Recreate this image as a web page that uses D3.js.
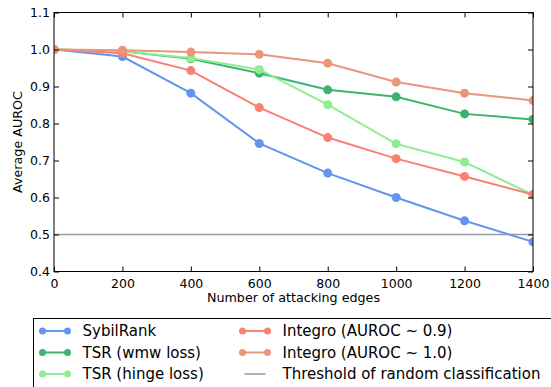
<!DOCTYPE html>
<html>
<head>
<meta charset="utf-8">
<script src="https://cdn.jsdelivr.net/npm/d3@7"></script>
<style>
  body { margin: 0; background: #fff; }
  svg { font-family: "DejaVu Sans", sans-serif; }
</style>
</head>
<body>
<div id="chart"></div>
<script>
// data
var edges = [0, 200, 400, 600, 800, 1000, 1200, 1400];
var sybilRank   = [1.000, 0.981, 0.882, 0.746, 0.666, 0.600, 0.537, 0.480];
var tsrWmw      = [1.000, 0.995, 0.975, 0.936, 0.891, 0.872, 0.826, 0.811];
var tsrHinge    = [1.000, 0.995, 0.977, 0.946, 0.851, 0.745, 0.696, 0.607];
var integro09   = [1.000, 0.990, 0.943, 0.843, 0.762, 0.705, 0.657, 0.608];
var integro10   = [1.000, 0.998, 0.993, 0.987, 0.963, 0.912, 0.882, 0.862];
var threshold   = 0.5;
var xTicks = [0, 200, 400, 600, 800, 1000, 1200, 1400];
var yTicks = [0.4, 0.5, 0.6, 0.7, 0.8, 0.9, 1.0, 1.1];

var series = [
  { name: "SybilRank", values: sybilRank, color: "#6495ED" },
  { name: "TSR (wmw loss)", values: tsrWmw, color: "#3CB371" },
  { name: "TSR (hinge loss)", values: tsrHinge, color: "#90EE90" },
  { name: "Integro (AUROC ~ 0.9)", values: integro09, color: "#FA8072" },
  { name: "Integro (AUROC ~ 1.0)", values: integro10, color: "#E9967A" }
];

var W = 551, H = 387;
var plotL = 54, plotR = 533, plotT = 12.5, plotB = 271.5;

var svg = d3.select("#chart").append("svg")
  .attr("width", W).attr("height", H);

var x = d3.scaleLinear().domain([0, 1400]).range([plotL, plotR]);
var y = d3.scaleLinear().domain([0.4, 1.1]).range([plotB, plotT]);

svg.append("clipPath").attr("id", "plotclip")
  .append("rect").attr("x", plotL).attr("y", plotT)
  .attr("width", plotR - plotL).attr("height", plotB - plotT);

var plot = svg.append("g").attr("clip-path", "url(#plotclip)");

// threshold line
plot.append("line")
  .attr("x1", plotL).attr("x2", plotR)
  .attr("y1", y(threshold)).attr("y2", y(threshold))
  .attr("stroke", "#999").attr("stroke-width", 1.5);

var line = d3.line()
  .x(function(d, i){ return x(edges[i]) })
  .y(function(d){ return y(d) });

series.forEach(function(s){
  plot.append("path")
    .attr("d", line(s.values))
    .attr("fill", "none")
    .attr("stroke", s.color)
    .attr("stroke-width", 2);
  plot.selectAll(null)
    .data(s.values)
    .enter()
    .append("circle")
      .attr("cx", function(d, i){ return x(edges[i]) })
      .attr("cy", function(d){ return y(d) })
      .attr("r", 4.5)
      .attr("fill", s.color);
});

// axes, ticks pointing inward on all four sides
var fmtY = d3.format(".1f");
var fmtX = d3.format("d");
var tickLen = 5;

var axB = svg.append("g").attr("transform", "translate(0," + plotB + ")")
  .call(d3.axisBottom(x).tickValues(xTicks).tickSizeInner(-tickLen).tickSizeOuter(0).tickFormat(fmtX).tickPadding(4));
var axT = svg.append("g").attr("transform", "translate(0," + plotT + ")")
  .call(d3.axisTop(x).tickValues(xTicks).tickSizeInner(-tickLen).tickSizeOuter(0).tickFormat(""));
var axL = svg.append("g").attr("transform", "translate(" + plotL + ",0)")
  .call(d3.axisLeft(y).tickValues(yTicks).tickSizeInner(-tickLen).tickSizeOuter(0).tickFormat(fmtY).tickPadding(4));
var axR = svg.append("g").attr("transform", "translate(" + plotR + ",0)")
  .call(d3.axisRight(y).tickValues(yTicks).tickSizeInner(-tickLen).tickSizeOuter(0).tickFormat(""));

[axB, axT, axL, axR].forEach(function(a){
  a.select(".domain").remove();
  a.selectAll("line").attr("stroke", "#000").attr("stroke-width", 1);
  a.selectAll("text").attr("font-size", 12.5).attr("font-family", "DejaVu Sans").attr("fill", "#000");
});
axB.selectAll("text").attr("y", 8).attr("dy", "0.71em");
axL.selectAll("text").attr("x", -4);

svg.append("rect")
  .attr("x", plotL).attr("y", plotT)
  .attr("width", plotR - plotL).attr("height", plotB - plotT)
  .attr("fill", "none").attr("stroke", "#000").attr("stroke-width", 1);

// axis labels
svg.append("text")
  .attr("x", (plotL + plotR) / 2).attr("y", 302)
  .attr("text-anchor", "middle")
  .attr("font-size", 12.7)
  .text("Number of attacking edges");

svg.append("text")
  .attr("transform", "translate(22," + ((plotT + plotB) / 2) + ") rotate(-90)")
  .attr("text-anchor", "middle")
  .attr("font-size", 12.7)
  .text("Average AUROC");

// legend (runs off the bottom/right edge like the original)
var legend = svg.append("g");
legend.append("rect")
  .attr("x", 33.5).attr("y", 318.5)
  .attr("width", 540).attr("height", 90)
  .attr("fill", "#fff").attr("stroke", "#000").attr("stroke-width", 1);

var legendItems = series.slice(0, 3).map(function(s, i){ return { s: s, col: 0, row: i } })
  .concat(series.slice(3).map(function(s, i){ return { s: s, col: 1, row: i } }));
legendItems.push({ s: { name: "Threshold of random classification", color: "#999" }, col: 1, row: 2, plain: true });

var colX = [42.5, 242.5], rowY = [331, 352.5, 374], handle = 25, textGap = 15;

legendItems.forEach(function(it){
  var x0 = colX[it.col], y0 = rowY[it.row];
  var g = legend.append("g");
  if (it.plain) {
    g.append("line").attr("x1", x0 + 2).attr("x2", x0 + handle - 2)
      .attr("y1", y0).attr("y2", y0)
      .attr("stroke", it.s.color).attr("stroke-width", 1.5);
  } else {
    g.append("line").attr("x1", x0).attr("x2", x0 + handle)
      .attr("y1", y0).attr("y2", y0)
      .attr("stroke", it.s.color).attr("stroke-width", 2);
    g.selectAll(null).data([x0, x0 + handle]).enter().append("circle")
      .attr("cx", function(d){ return d }).attr("cy", y0).attr("r", 3.5)
      .attr("fill", it.s.color);
  }
  g.append("text")
    .attr("x", x0 + handle + textGap).attr("y", y0)
    .attr("dy", "0.35em")
    .attr("font-size", 15)
    .text(it.s.name);
});
</script>
</body>
</html>
